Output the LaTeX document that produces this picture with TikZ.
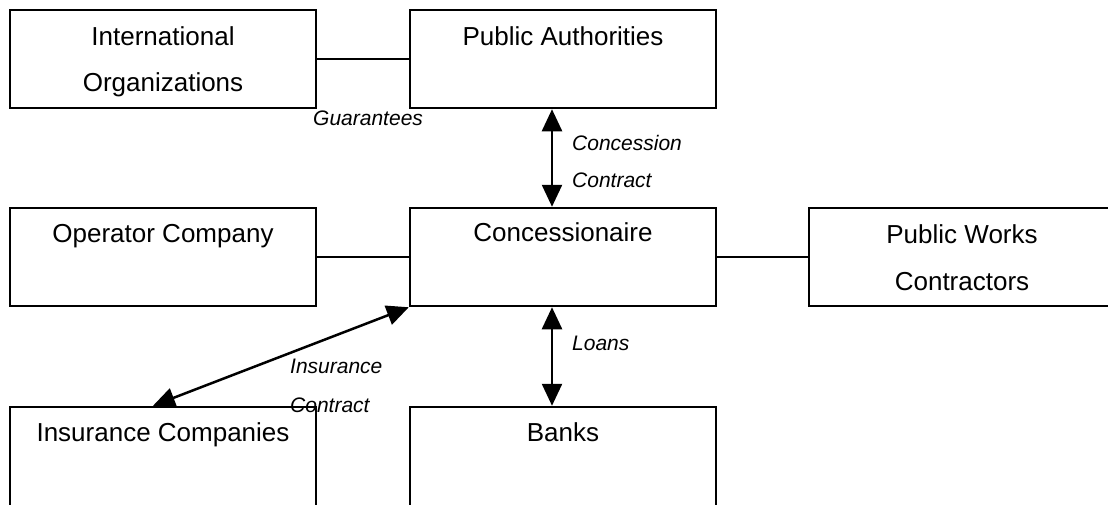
\documentclass[tikz,border=0pt]{standalone}
\usepackage{fontspec}
\setmainfont{Liberation Sans}
\usetikzlibrary{arrows.meta,calc}

\begin{document}
\begin{tikzpicture}[x=1pt,y=-1pt,
  party/.style={draw=black,line width=2.5pt,minimum width=306pt,minimum height=98pt,inner sep=0pt},
  partytext/.style={anchor=base,inner sep=0pt,font=\fontsize{26}{30}\selectfont},
  linktext/.style={anchor=base west,inner sep=0pt,font=\fontsize{21}{25}\selectfont\itshape},
  link/.style={line width=2.5pt},
  deal/.style={line width=2.5pt,{Triangle[length=22pt,width=20pt]}-{Triangle[length=22pt,width=20pt]}}]

\useasboundingbox (0,0) rectangle (1108,504);
\fill[white] (0,0) rectangle (1108,504);
\clip (0,0) rectangle (1108,504);

% parties
\node[party] (io)   at (163,59)  {};
\node[party] (pa)   at (563,59)  {};
\node[party] (conc) at (563,257) {};
\node[party] (op)   at (163,257) {};
\node[party] (pwc)  at (962,257) {};
\node[party,minimum height=110pt] (ins)   at (163,462) {};
\node[party,minimum height=110pt] (banks) at (563,462) {};

% party names
\node[partytext] (ioA)   at ($(io.north)+(0,37)$)   {International};
\node[partytext] (ioB)   at ($(io.north)+(0,83)$)   {Organizations};
\node[partytext] (paT)   at ($(pa.north)+(0,37)$)   {Public Authorities};
\node[partytext] (concT) at ($(conc.north)+(0,35)$) {Concessionaire};
\node[partytext] (opT)   at ($(op.north)+(0,36)$)   {Operator Company};
\node[partytext] (pwcA)  at ($(pwc.north)+(0,37)$)  {Public Works};
\node[partytext] (pwcB)  at ($(pwc.north)+(0,84)$)  {Contractors};
\node[partytext] (insT)  at ($(ins.north)+(0,36)$)  {Insurance Companies};
\node[partytext] (bankT) at ($(banks.north)+(0,36)$) {Banks};

% plain links
\draw[link] (io.east) -- (pa.west);
\draw[link] (op.east) -- (conc.west);
\draw[link] (conc.east) -- (pwc.west);

% contracts
\draw[deal] ([xshift=-11pt]pa.south) -- ([xshift=-11pt]conc.north);
\draw[deal] ([xshift=-11pt]conc.south) -- ([xshift=-11pt]banks.north);
\draw[deal] (conc.south west) -- ([xshift=-10pt]ins.north);

% contract labels
\node[linktext] (guar)  at (313,125) {Guarantees};
\node[linktext] (concA) at (572,150) {Concession};
\node[linktext] (concB) at (572,187) {Contract};
\node[linktext] (loans) at (572,350) {Loans};
\node[linktext] (insA)  at (290,373) {Insurance};
\node[linktext] (insB)  at (290,412) {Contract};
\end{tikzpicture}
\end{document}
